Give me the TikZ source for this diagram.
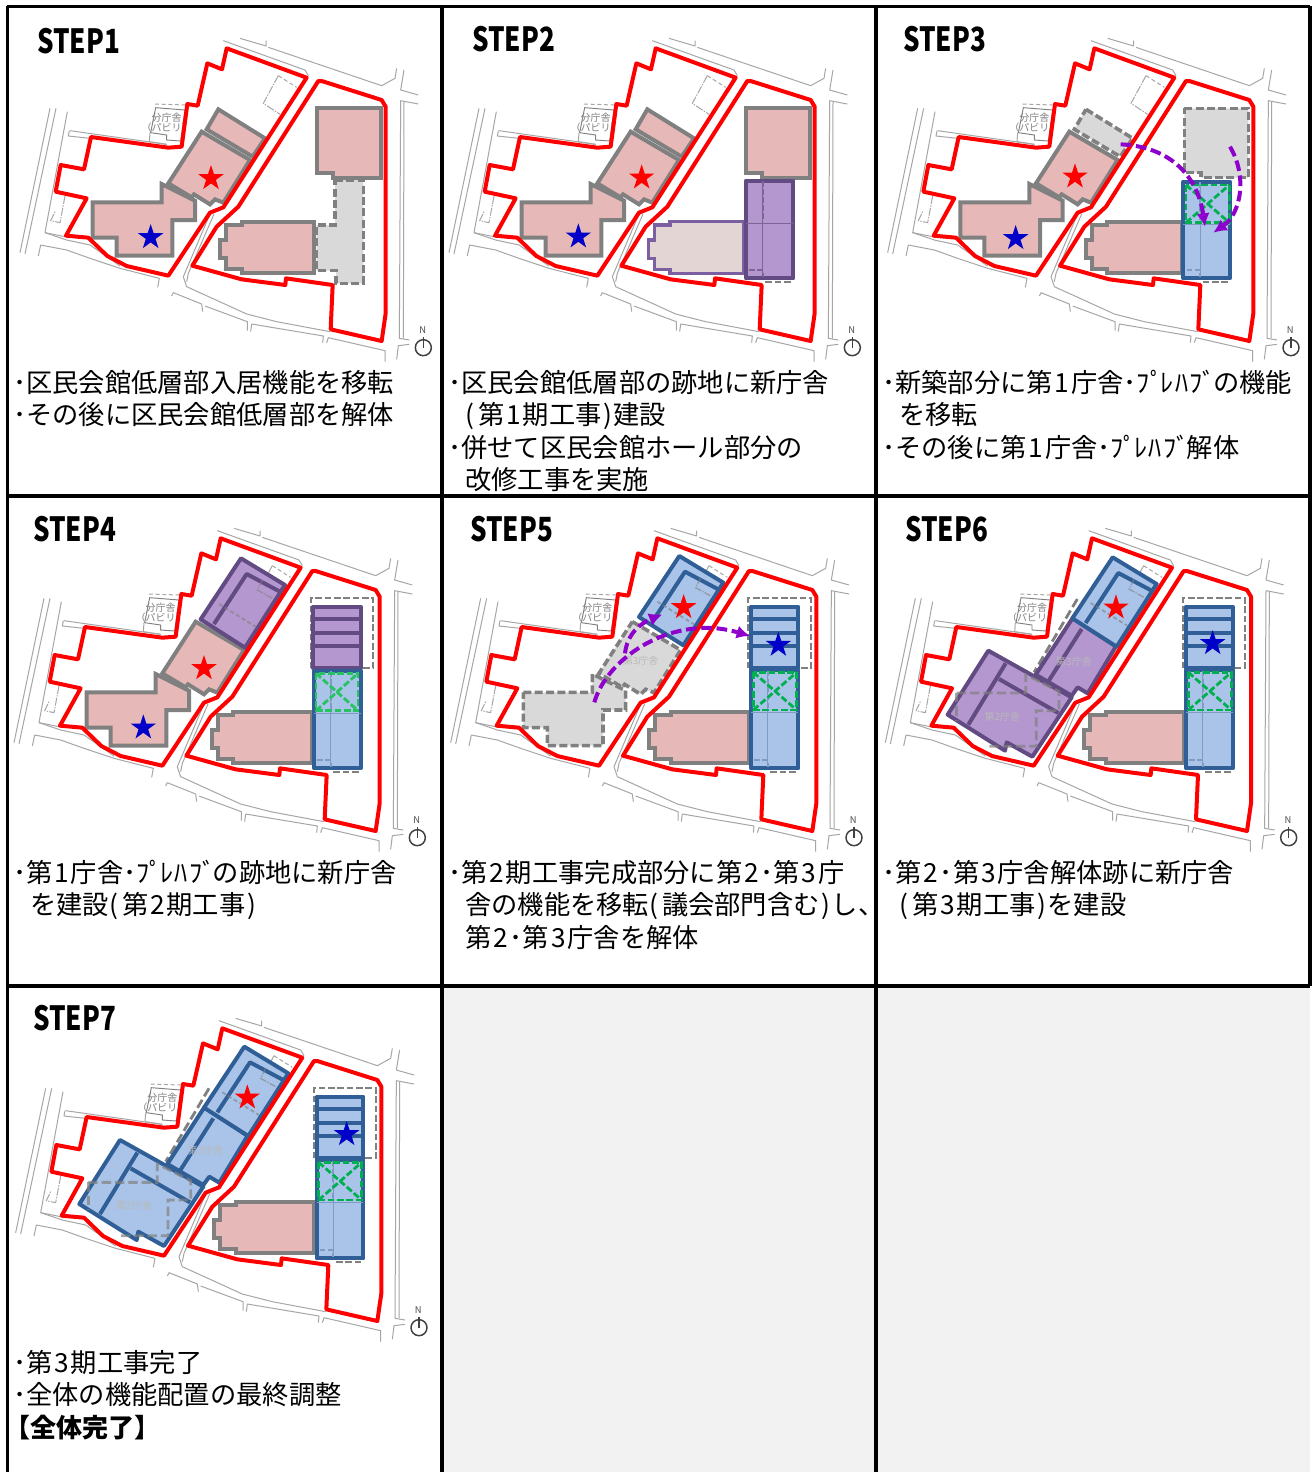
\documentclass[tikz,border=0pt]{standalone}
\usepackage{graphicx}
\usepackage{fontspec}
\setmainfont{Noto Sans CJK JP}
\usetikzlibrary{shapes.geometric,arrows.meta}
\definecolor{roadc}{HTML}{A6A6A6}
\definecolor{gb}{HTML}{808080}
\definecolor{pinkf}{HTML}{E6B8B7}
\definecolor{ghostf}{HTML}{D9D9D9}
\definecolor{purf}{HTML}{B497CE}
\definecolor{purd}{HTML}{624A82}
\definecolor{bluf}{HTML}{A9C4E8}
\definecolor{blud}{HTML}{2F5F96}
\definecolor{hallf}{HTML}{E4D5D5}
\definecolor{halld}{HTML}{7B5FA0}
\definecolor{greenl}{HTML}{00B050}
\definecolor{arrowc}{HTML}{8E00CC}
\definecolor{emptyf}{HTML}{F2F2F2}
\definecolor{sitered}{HTML}{FF0000}
\definecolor{starblue}{HTML}{0000C8}
\definecolor{innerb}{HTML}{7F9BC2}
\tikzset{
 road/.style={draw=roadc,line width=.75pt,line join=round},
 sitel/.style={draw=sitered,line width=3pt,line join=round},
 pinkb/.style={draw=gb,fill=pinkf,line width=3pt},
 ghost/.style={draw=gb,fill=ghostf,line width=2.7pt,dash pattern=on 6pt off 2.5pt},
 oldl/.style={draw=gb,line width=1.6pt,dash pattern=on 5pt off 2pt},
 olds/.style={draw=gb,line width=2.1pt,dash pattern=on 7pt off 3pt},
 purb/.style={draw=purd,fill=purf,line width=3pt,line join=round},
 blub/.style={draw=blud,fill=bluf,line width=3pt,line join=round},
 purl/.style={draw=purd,line width=3pt},
 blul/.style={draw=blud,line width=3pt},
 innerl/.style={draw=innerb},
 hallpur/.style={draw=halld,fill=hallf,line width=2.4pt},
 greend/.style={draw=greenl,line width=2.1pt,dash pattern=on 5pt off 2pt},
 movearrow/.style={draw=arrowc,line width=3pt,dash pattern=on 8pt off 3.5pt,-{Latex[length=10pt,width=10pt]}},
 starred/.style={star,star points=5,star point ratio=2.62,fill=sitered,draw=none,minimum size=20pt,inner sep=0pt},
 starblu/.style={star,star points=5,star point ratio=2.62,fill=starblue,draw=none,minimum size=20pt,inner sep=0pt},
 bodytxt/.style={anchor=base west,inner sep=0pt,font=\fontsize{19.7pt}{24pt}\selectfont},
 titletxt/.style={anchor=base west,inner sep=0pt,font=\fontsize{25pt}{30pt}\bfseries\selectfont},
 faint/.style={inner sep=0pt,font=\fontsize{7.5pt}{8pt}\selectfont,text=gb!55!white},
 annexl/.style={inner sep=0pt,font=\fontsize{7.5pt}{8pt}\selectfont,text=gb},
 north/.style={draw=black!75,line width=1.1pt},
}
\newcommand{\hallpath}[2]{({#1+65},635) -- (#2,635) -- (#2,790) -- ({#1+65},790) -- ({#1+65},778) -- ({#1+18},778) -- ({#1+18},745) -- (#1,745) -- (#1,690) -- ({#1+18},690) -- ({#1+18},645) -- ({#1+65},645) -- cycle}
\newcommand{\bthreetop}{(625,298) -- (765,385) -- (728,440) -- (590,358) -- cycle}
\newcommand{\bthreemain}{(575,365) -- (720,450) -- (640,578) -- (615,568) -- (600,583) -- (552,553) -- (545,562) -- (475,520) -- cycle}
\newcommand{\btwo}{(248,577) -- (455,577) -- (455,522) -- (555,572) -- (555,630) -- (487,630) -- (487,737) -- (320,737) -- (320,683) -- (248,683) -- cycle}
\newcommand{\bonetop}{(920,295) -- (1112,295) -- (1112,503) -- (970,503) -- (970,488) -- (920,488) -- cycle}
\newcommand{\prefab}{(975,510) -- (1060,510) -- (1060,820) -- (978,820) -- (978,782) -- (920,782) -- (920,645) -- (975,645) -- cycle}
\newcommand{\sitebase}[1]{
 \draw[road] (640,92) -- (885,180) -- (895,197);
 \draw[road] (690,85) -- (768,108) -- (768,92);
 \draw[road] (775,112) -- (1115,227) -- (1155,205) -- (1160,175);
 \draw[road] (1182,180) -- (1172,240) -- (1225,255);
 \draw[road] (1225,282) -- (1172,272) -- (1168,985) -- (1198,990);
 \draw[road] (1182,275) -- (1180,985);
 \draw[road] (1160,1048) -- (1165,1007) -- (1198,1003);
 \draw[road] (120,295) -- (30,728);
 \draw[road] (138,295) -- (45,732);
 \draw[road] (172,305) -- (105,668) -- (165,680);
 \draw[road] (180,362) -- (470,403);
 \draw[road] (178,362) -- (175,378) -- (240,385);
 \draw[road] (85,738) -- (92,705) -- (170,720) -- (240,745) -- (330,775) -- (448,805) -- (443,832);
 \draw[road] (105,668) -- (170,690) -- (240,705) -- (330,768);
 \draw[road] (485,858) -- (490,848) -- (575,882) -- (578,905);
 \draw[road] (585,888) -- (712,935) -- (712,962);
 \draw[road] (722,965) -- (725,942) -- (940,978) -- (938,998);
 \draw[road] (950,998) -- (955,983) -- (1125,1022) -- (1125,1055);
 \draw[road] (600,612) -- (520,800) -- (530,830) -- (710,912) -- (800,935) -- (960,965);
 \draw[road] (612,612) -- (535,790) -- (530,815);
 \draw[road,densely dashed] (805,197) -- (860,232);
 \draw[road,dash pattern=on 6pt off 1pt on 1pt off 1pt] (805,197) -- (760,280) -- (810,313);
 \draw[road,dash pattern=on 6pt off 1pt on 1pt off 1pt] (165,558) -- (150,638) -- (122,632) -- (135,605);
 \draw[draw=black!50,line width=.7pt] (437,293) -- (525,300) -- (512,393) -- (470,390) -- (470,375) -- (422,368) -- cycle;
 \draw[road,densely dashed] (435,282) -- (525,285);
 \draw[road] (420,368) -- (418,395) -- (470,403);
 \node[annexl] (#1aa) at (470,322) {分庁舎};
 \node[annexl] (#1ab) at (470,352) {（パビリ）};
 \coordinate (#1nc) at (1240,1013);
 \coordinate (#1nt) at (1240,982);
 \draw[north] (#1nc) circle[radius=24];
 \draw[north] (#1nt) -- (#1nc);
 \node[inner sep=0pt,font=\fontsize{7pt}{8pt}\selectfont,text=black!70] (#1nn) at (1238,961) {N};
}
\newcommand{\siteline}{
 \draw[sitel] (650,115) -- (890,203) -- (640,592) -- (600,608) -- (475,797) -- (350,768) -- (292,738) -- (235,683) -- (168,677) -- (230,565) -- (137,545) -- (152,465) -- (222,478) -- (243,381) -- (475,413) -- (515,410) -- (532,282) -- (563,287) -- (592,160) -- (636,178) -- cycle;
 \draw[sitel] (925,213) -- (935,213) -- (1115,270) -- (1127,290) -- (1127,910) -- (1115,993) -- (962,958) -- (968,825) -- (828,805) -- (826,825) -- (695,808) -- (547,767) -- (620,650) -- (685,590) -- cycle;
}
\newcommand{\southblock}[5]{
 \draw[oldl] ({#1+58},{#4+10}) -- ({#2-4},{#4+10});
 \draw[#5] (#1,#3) rectangle (#2,#4);
 \draw[innerl,line width=.7pt] ({#1+50},{#3+3}) -- ({#1+50},{#4-3});
 \draw[innerl,line width=.7pt] (#1,{#3+128}) -- (#2,{#3+128});
 \draw[innerl,line width=1.5pt,dash pattern=on 4pt off 2pt] ({#1+10},{#4-24}) -- ({#1+50},{#4-24}) -- ({#1+50},{#4-4});
 \draw[innerl,line width=1.5pt,dash pattern=on 4pt off 2pt] ({#1+50},{#3+2}) -- ({#1+50},{#3+120});
}
\newcommand{\greenx}[4]{
 \draw[greend] (#1,#3) rectangle (#2,#4);
 \draw[greend] (#1,#4) -- (#2,#3);
 \draw[greend] (#1,#3) -- (#2,#4);
}
\newcommand{\eastblock}[4]{
 \draw[oldl] ({#1-8},505) -- ({#1-8},295) -- ({#2+38},295) -- ({#2+38},503) -- (#2,503);
 \draw[#3] (#1,320) rectangle (#2,505);
 \draw[#4] (#1,358) -- (#2,358);
 \draw[#4] (#1,398) -- (#2,398);
 \draw[#4] (#1,438) -- (#2,438);
}
\newcommand{\wing}[4]{
 \begin{scope}[shift={(#1,#2)}]
 \draw[#3] (711,175) -- (843,255) -- (723,443) -- (590,358) -- cycle;
 \draw[#4,line join=round] (828,275) -- (728,222) -- (630,372);
 \draw[draw=gb,opacity=.6,line width=1pt,dash pattern=on 5pt off 1pt on 1pt off 1pt] (775,240) -- (760,270) -- (805,295);
 \draw[draw=gb,opacity=.6,line width=1.4pt,densely dashed] (645,312) -- (755,380);
 \end{scope}
}
\newcommand{\westblock}[5]{
 \begin{scope}[shift={(#1,#2)}]
 \draw[olds] (610,295) -- (480,515);
 \draw[#3] (596,352) -- (726,437) -- (641,578) -- (611,560) -- (593,585) -- (485,522) -- cycle;
 \draw[#3] (343,450) -- (593,590) -- (475,768) -- (398,725) -- (393,750) -- (221,642) -- cycle;
 \draw[#4] (395,488) -- (283,672);
 \draw[#4,line join=round] (375,535) -- (553,637);
 \draw[#4] (623,385) -- (518,550);
 \draw[#4] (596,352) -- (726,437);
 \draw[olds,opacity=.7] (248,577) -- (455,577) -- (455,522) -- (555,572) -- (555,630) -- (487,630) -- (487,737) -- (345,737);
 \draw[olds,opacity=.7] (248,577) -- (248,660);
 \node[faint] (#5f) at (385,647) {第2庁舎};
 \node[faint] (#5g) at (600,482) {第3庁舎};
 \end{scope}
}
\newcommand{\btx}[4]{\node[bodytxt] (#1) at ({#2*3},{#3*3}) {#4};}
\newcommand{\ttl}[4]{\node[titletxt] (#1) at ({#2*3},{#3*3}) {\scalebox{0.78}[1]{#4}};}
\newcommand{\dg}[1]{\kern1.4pt#1\kern1.4pt}
\newcommand{\lp}{\kern.5pt(\kern2.6pt}
\newcommand{\rp}{\kern1.6pt)\kern.8pt}
\newcommand{\pre}{ﾌﾟ\kern-.1emﾚ\kern.05emﾊ\kern.05emﾌﾞ\kern-.1em}
\begin{document}
\begin{tikzpicture}[x=0.25pt,y=-0.25pt]
\useasboundingbox (0,0) rectangle (3948,4416);
\fill[white] (0,0) rectangle (3948,4416);
\fill[emptyf] (1326,2958) rectangle (3930,4416);
% STEP 1
\begin{scope}[shift={(30,30)}]
 \sitebase{a}
 \draw[pinkb] \bthreetop;
 \draw[pinkb] \bthreemain;
 \draw[pinkb] \btwo;
 \draw[pinkb] \bonetop;
 \draw[ghost] \prefab;
 \draw[pinkb] \hallpath{630}{912};
 \siteline
 \node[starred] (a1) at (603,505) {};
 \node[starblu] (a2) at (422,682) {};
\end{scope}
% STEP 2
\begin{scope}[shift={(1317,30)},innerl/.style={draw=purd!85}]
 \sitebase{b}
 \draw[pinkb] \bthreetop;
 \draw[pinkb] \bthreemain;
 \draw[pinkb] \btwo;
 \draw[pinkb] \bonetop;
 \draw[hallpur] \hallpath{628}{913};
 \southblock{921}{1063}{512}{805}{purb}
 \siteline
 \node[starred] (b1) at (608,503) {};
 \node[starblu] (b2) at (418,680) {};
\end{scope}
% STEP 3
\begin{scope}[shift={(2633,30)}]
 \sitebase{c}
 \draw[ghost] \bthreetop;
 \draw[pinkb] \bthreemain;
 \draw[pinkb] \btwo;
 \draw[ghost] \bonetop;
 \draw[pinkb] \hallpath{624}{912};
 \southblock{917}{1057}{515}{805}{blub}
 \greenx{925}{1055}{525}{638}
 \siteline
 \draw[movearrow] (729,403) .. controls (880,410) and (960,500) .. (982,650);
 \draw[movearrow] (1057,410) .. controls (1110,500) and (1090,610) .. (1007,668);
 \node[starred] (c1) at (592,500) {};
 \node[starblu] (c2) at (414,685) {};
\end{scope}
% STEP 4
\begin{scope}[shift={(12,1500)},greend/.append style={draw=green!45!teal!85!white}]
 \sitebase{d}
 \draw[pinkb] \bthreemain;
 \draw[pinkb] \btwo;
 \wing{0}{0}{purb}{purl}
 \draw[pinkb] \hallpath{623}{923};
 \eastblock{928}{1070}{purb}{purl}
 \southblock{930}{1070}{512}{805}{blub}
 \greenx{936}{1062}{520}{632}
 \siteline
 \node[starred] (d1) at (600,505) {};
 \node[starblu] (d2) at (418,683) {};
\end{scope}
% STEP 5
\begin{scope}[shift={(1322,1500)}]
 \sitebase{e}
 \draw[ghost] \bthreemain;
 \draw[ghost] \btwo;
 \node[faint] (ef) at (600,482) {第3庁舎};
 \wing{5}{-7}{blub}{blul}
 \draw[pinkb] \hallpath{625}{926};
 \eastblock{931}{1073}{blub}{blul}
 \southblock{931}{1073}{510}{805}{blub}
 \greenx{938}{1068}{517}{630}
 \siteline
 \draw[movearrow] (461,607) .. controls (500,470) and (700,340) .. (928,408);
 \draw[movearrow] (553,460) .. controls (560,400) and (600,370) .. (665,343);
 \node[starred] (e1) at (729,322) {};
 \node[starblu] (e2) at (1013,435) {};
\end{scope}
% STEP 6
\begin{scope}[shift={(2626,1500)}]
 \sitebase{f}
 \westblock{-4}{2}{purb}{purl}{f}
 \wing{1}{-3}{blub}{blul}
 \draw[pinkb] \hallpath{626}{926};
 \eastblock{932}{1072}{blub}{blul}
 \southblock{932}{1072}{510}{805}{blub}
 \greenx{939}{1068}{517}{630}
 \siteline
 \node[starred] (f1) at (722,323) {};
 \node[starblu] (f2) at (1012,430) {};
\end{scope}
% STEP 7
\begin{scope}[shift={(17,2970)}]
 \sitebase{g}
 \westblock{0}{0}{blub}{blul}{g}
 \wing{5}{-5}{blub}{blul}
 \draw[pinkb] \hallpath{625}{926};
 \eastblock{933}{1073}{blub}{blul}
 \southblock{933}{1073}{510}{805}{blub}
 \greenx{939}{1068}{517}{630}
 \siteline
 \node[starred] (g1) at (725,323) {};
 \node[starblu] (g2) at (1023,433) {};
\end{scope}
% grid
\draw[line width=2.4pt] (22,19) -- (3930,19);
\draw[line width=2.4pt] (22,1488) -- (3930,1488);
\draw[line width=2.4pt] (22,2958) -- (3930,2958);
\draw[line width=2.4pt] (22,19) -- (22,4416);
\draw[line width=2.4pt] (1326,19) -- (1326,4416);
\draw[line width=2.4pt] (2628,19) -- (2628,4416);
\draw[line width=2.4pt] (3930,19) -- (3930,2958);
% titles
\ttl{t1}{37}{53}{STEP1}
\ttl{t2}{472}{51.5}{STEP2}
\ttl{t3}{903}{51}{STEP3}
\ttl{t4}{33}{541.5}{STEP4}
\ttl{t5}{470}{541}{STEP5}
\ttl{t6}{905}{541}{STEP6}
\ttl{t7}{33}{1030}{STEP7}
% texts
\btx{x11}{13}{392}{･区民会館低層部入居機能を移転}
\btx{x12}{13}{424}{･その後に区民会館低層部を解体}
\btx{x21}{448}{392}{･区民会館低層部の跡地に新庁舎}
\btx{x22}{465}{424}{\lp 第\dg{1}期工事\rp 建設}
\btx{x23}{448}{457}{･併せて区民会館ホール部分の}
\btx{x24}{465}{489}{改修工事を実施}
\btx{x31}{882}{392}{･新築部分に第\dg{1}庁舎･\pre の機能}
\btx{x32}{899}{424}{を移転}
\btx{x33}{882}{457}{･その後に第\dg{1}庁舎･\pre 解体}
\btx{x41}{13}{882}{･第\dg{1}庁舎･\pre の跡地に新庁舎}
\btx{x42}{30}{914}{を建設\lp 第\dg{2}期工事\rp}
\btx{x51}{448}{882}{･第\dg{2}期工事完成部分に第\dg{2}･第\dg{3}庁}
\btx{x52}{465}{914}{舎の機能を移転\lp 議会部門含む\rp し、}
\btx{x53}{465}{947}{第\dg{2}･第\dg{3}庁舎を解体}
\btx{x61}{882}{882}{･第\dg{2}･第\dg{3}庁舎解体跡に新庁舎}
\btx{x62}{899}{914}{\lp 第\dg{3}期工事\rp を建設}
\btx{x71}{13}{1372}{･第\dg{3}期工事完了}
\btx{x72}{13}{1404}{･全体の機能配置の最終調整}
\node[bodytxt,font=\fontsize{19.5pt}{24pt}\bfseries\selectfont] (x73) at (12,4311) {【全体完了】};
\end{tikzpicture}
\end{document}
